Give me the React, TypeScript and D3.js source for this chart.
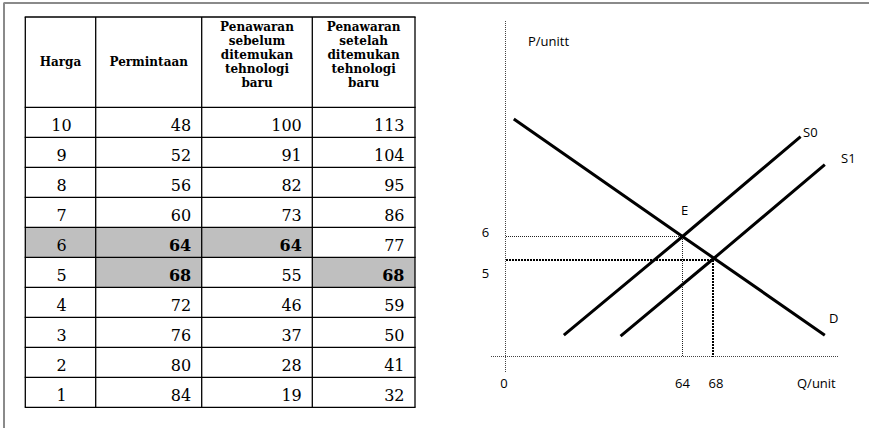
import React from "react";
import * as d3 from "d3";

// ---- Table data ----
const harga = [10, 9, 8, 7, 6, 5, 4, 3, 2, 1];
const permintaan = [48, 52, 56, 60, 64, 68, 72, 76, 80, 84];
const penawaranSebelum = [100, 91, 82, 73, 64, 55, 46, 37, 28, 19];
const penawaranSetelah = [113, 104, 95, 86, 77, 68, 59, 50, 41, 32];
const headers: string[][] = [
  ["Harga"],
  ["Permintaan"],
  ["Penawaran", "sebelum", "ditemukan", "tehnologi", "baru"],
  ["Penawaran", "setelah", "ditemukan", "tehnologi", "baru"],
];
// highlighted cells: [harga, column index]
const highlighted: [number, number][] = [
  [6, 0], [6, 1], [6, 2],
  [5, 1], [5, 3],
];
const boldCells: [number, number][] = [
  [6, 1], [6, 2], [5, 1], [5, 3],
];

// ---- Chart data (schematic) ----
const demandPts: [number, number][] = [[3, 11], [64, 6], [68, 5.1], [96.3, 1.1]];
const s0Pts: [number, number][] = [[21.1, 1.1], [64, 6], [90.2, 10.25]];
const s1Pts: [number, number][] = [[41.6, 1.05], [68, 5], [96.3, 9.06]];
const eqE: [number, number] = [64, 6];
const eq2: [number, number] = [68, 5];
const qTicks = [0, 64, 68];
const pTicks = [6, 5];

export default function App() {
  // table layout
  const colEdges = [25.3, 95.7, 201.7, 312.3, 415];
  const headTop = 17;
  const headBottom = 107.3;
  const tableBottom = 407.3;
  const row = d3.scaleBand<number>().domain(harga).range([headBottom, tableBottom]).padding(0);
  const cols = [harga, permintaan, penawaranSebelum, penawaranSetelah];
  const isIn = (arr: [number, number][], h: number, c: number) =>
    arr.some(([a, b]) => a === h && b === c);

  // chart scales (schematic, piecewise)
  const x = d3.scaleLinear().domain([0, 64, 68, 100]).range([505.5, 682.5, 712.5, 839.5]);
  const y = d3.scaleLinear().domain([0, 5, 6, 15]).range([356.5, 259.5, 236.5, 25]);
  const line = d3.line<[number, number]>().x((d) => x(d[0])).y((d) => y(d[1]));

  const sans = "'Open Sans', 'Liberation Sans', sans-serif";
  const serif = "'DejaVu Serif', serif";

  return (
    <svg
      width={869}
      height={428}
      style={{ position: "absolute", left: 0, top: 0, background: "#fff" }}
    >
      <rect x={0} y={0} width={869} height={428} fill="#fff" />
      {/* outer frame */}
      <line x1={3.5} y1={3} x2={869} y2={3} stroke="#8a8a8a" strokeWidth={2} />
      <line x1={4} y1={3} x2={4} y2={428} stroke="#8a8a8a" strokeWidth={2} />

      {/* ---- Table ---- */}
      {harga.map((h) =>
        cols.map((_, c) =>
          isIn(highlighted, h, c) ? (
            <rect
              key={`hl-${h}-${c}`}
              x={colEdges[c]}
              y={row(h)!}
              width={colEdges[c + 1] - colEdges[c]}
              height={row.bandwidth()}
              fill="#bfbfbf"
            />
          ) : null
        )
      )}
      {/* header text */}
      {headers.map((lines, c) => {
        const cx = (colEdges[c] + colEdges[c + 1]) / 2;
        const base = lines.length === 1 ? 66 : 31;
        return (
          <text
            key={`h-${c}`}
            x={cx}
            textAnchor="middle"
            fontFamily={serif}
            fontWeight="bold"
            fontSize={12}
            fill="#000"
          >
            {lines.map((l, i) => (
              <tspan key={i} x={cx} y={base + i * 14.1}>
                {l}
              </tspan>
            ))}
          </text>
        );
      })}
      {/* data text */}
      {harga.map((h, r) =>
        cols.map((arr, c) => {
          const yb = row(h)! + 24;
          const bold = isIn(boldCells, h, c);
          const xPos = c === 0 ? (colEdges[0] + colEdges[1]) / 2 + 1 : colEdges[c + 1] - 10.5;
          return (
            <text
              key={`d-${h}-${c}`}
              x={xPos}
              y={yb}
              textAnchor={c === 0 ? "middle" : "end"}
              fontFamily={serif}
              fontSize={16}
              fontWeight={bold ? "bold" : "normal"}
              fill="#000"
            >
              {arr[r]}
            </text>
          );
        })
      )}
      {/* grid lines */}
      {[headTop, ...harga.map((h) => row(h)!), tableBottom].map((yy, i) => (
        <line
          key={`hr-${i}`}
          x1={colEdges[0] - 0.6}
          x2={colEdges[colEdges.length - 1] + 0.6}
          y1={yy}
          y2={yy}
          stroke="#000"
          strokeWidth={1.3}
        />
      ))}
      {colEdges.map((xx, i) => (
        <line
          key={`vr-${i}`}
          x1={xx}
          x2={xx}
          y1={headTop}
          y2={tableBottom}
          stroke="#000"
          strokeWidth={1.3}
        />
      ))}

      {/* ---- Chart ---- */}
      <g shapeRendering="crispEdges">
        {/* axes */}
        <line x1={x(0)} x2={x(0)} y1={21} y2={372} stroke="#444" strokeWidth={1} strokeDasharray="1 1" />
        <line x1={491} x2={839} y1={y(0)} y2={y(0)} stroke="#444" strokeWidth={1} strokeDasharray="1 1" />
        {/* equilibrium guides */}
        <line x1={x(0)} x2={x(eqE[0])} y1={y(eqE[1])} y2={y(eqE[1])} stroke="#222" strokeWidth={1} strokeDasharray="1 1" />
        <line x1={x(eqE[0])} x2={x(eqE[0])} y1={y(eqE[1])} y2={y(0)} stroke="#222" strokeWidth={1} strokeDasharray="1 1" />
        <line x1={x(0)} x2={x(eq2[0])} y1={y(eq2[1])} y2={y(eq2[1])} stroke="#000" strokeWidth={2} strokeDasharray="2 1" />
        <line x1={x(eq2[0])} x2={x(eq2[0])} y1={y(eq2[1])} y2={y(0)} stroke="#000" strokeWidth={2} strokeDasharray="2 1" />
      </g>

      {/* curves */}
      <path d={line(demandPts)!} fill="none" stroke="#000" strokeWidth={3} strokeLinejoin="round" />
      <path d={line(s0Pts)!} fill="none" stroke="#000" strokeWidth={3} strokeLinejoin="round" />
      <path d={line(s1Pts)!} fill="none" stroke="#000" strokeWidth={3} strokeLinejoin="round" />

      {/* labels */}
      <g fontFamily={sans} fontSize={13} fill="#000">
        <text x={528} y={46}>P/unitt</text>
        {qTicks.map((q) => (
          <text key={`q-${q}`} x={x(q) + (q === 0 ? -1.5 : q === 64 ? 0 : 3.5)} y={388} textAnchor="middle">
            {q}
          </text>
        ))}
        <text x={797} y={388}>Q/unit</text>
        {pTicks.map((p, i) => (
          <text key={`p-${p}`} x={485.5} y={i === 0 ? 237 : 278} textAnchor="middle">
            {p}
          </text>
        ))}
        <text x={684.5} y={214.5} textAnchor="middle">E</text>
        <text x={803} y={137}>S0</text>
        <text x={841} y={163}>S1</text>
        <text x={829} y={323}>D</text>
      </g>
    </svg>
  );
}
